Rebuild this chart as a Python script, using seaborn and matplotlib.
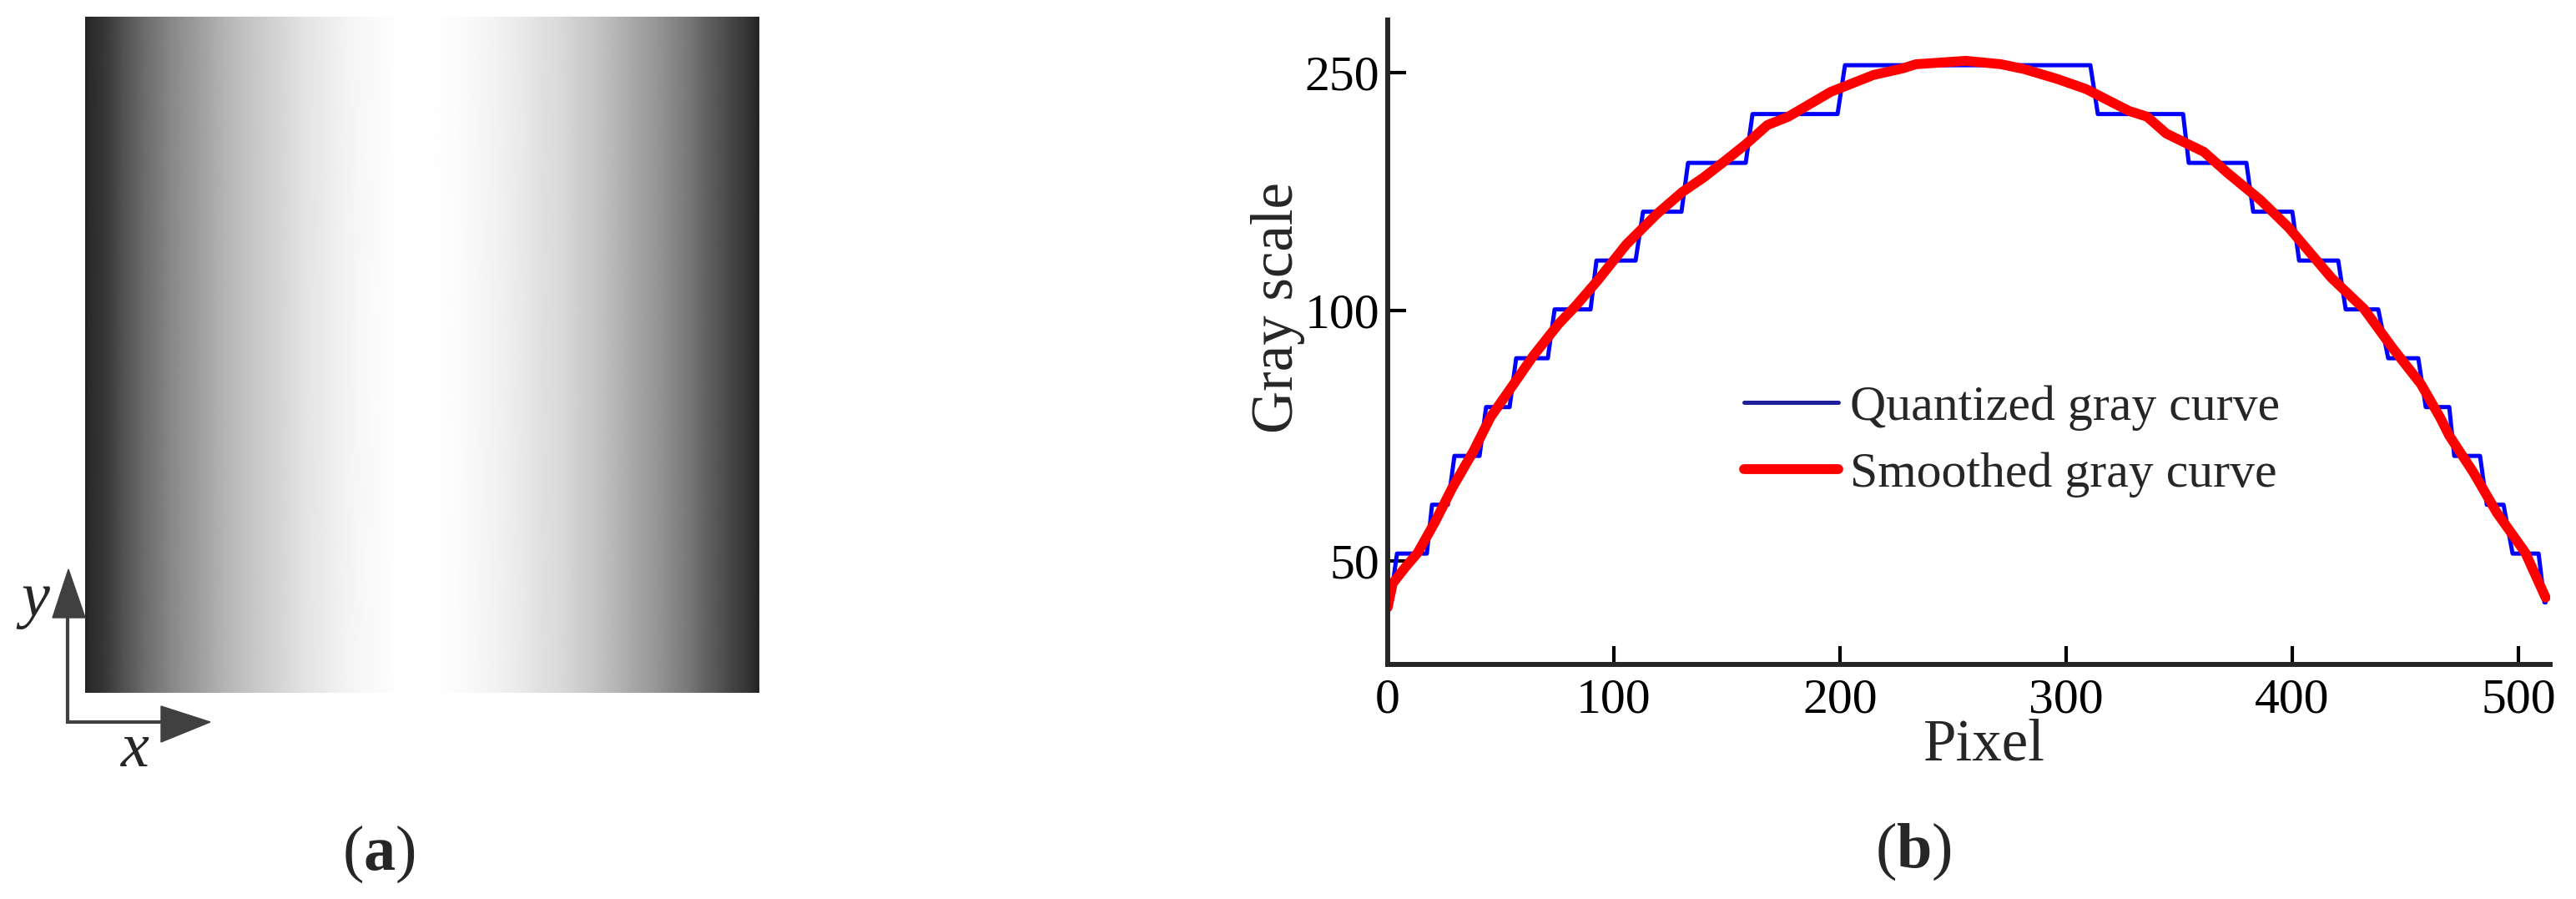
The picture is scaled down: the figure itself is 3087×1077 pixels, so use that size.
import numpy as np
import pandas as pd
import seaborn as sns
import matplotlib.pyplot as plt
from matplotlib.lines import Line2D

# quantized gray curve: flat segments (start pixel, end pixel, gray level)
seg_start = [0, 4.1, 19.6, 29.5, 43.5, 56.8, 73.8, 92.3, 112.9, 132.8, 161.3, 202.2,
             314.0, 354.2, 382.7, 403.0, 423.6, 442.4, 459.0, 471.6, 486.0, 497.4, 511.5]
seg_end = [1.1, 17.3, 26.6, 40.6, 53.9, 70.8, 89.7, 109.6, 129.9, 158.3, 198.9, 310.7,
           351.7, 379.7, 400.0, 420.3, 438.0, 455.7, 469.4, 483.0, 493.4, 508.9, 512]
seg_level = [33, 53, 73, 93, 113, 133, 153, 173, 193, 213, 233, 253,
             233, 213, 193, 173, 153, 133, 113, 93, 73, 53, 33]

# smoothed gray curve
smooth_x = [0, 2.2, 7.7, 13.3, 21.0, 28.4, 38.0, 45.4, 55.0, 64.2, 75.6, 83.0, 92.6,
            105.5, 118.8, 130.3, 139.5, 149.1, 158.3, 167.9, 177.1, 195.9, 205.5, 214.8,
            227.7, 233.6, 255.7, 271.2, 281.5, 296.3, 308.9, 327.7, 335.8, 344.3, 360.9,
            371.2, 386.0, 398.5, 417.3, 431.7, 444.3, 456.8, 465.3, 469.4, 480.1, 490.4,
            503.0, 512]
smooth_y = [31, 40.8, 47.3, 53.4, 66.1, 79.7, 95.1, 108.8, 121.5, 133.8, 147.1, 154.3,
            164.6, 179.6, 191.9, 201.1, 206.9, 213.8, 220.6, 228.5, 231.9, 242.1, 245.6,
            249.0, 251.7, 253.4, 254.8, 253.4, 251.4, 247.3, 243.2, 234.3, 231.9, 225.0,
            217.5, 209.0, 197.7, 186.4, 165.9, 153.2, 137.2, 122.5, 108.8, 101.3, 86.2,
            69.8, 53.4, 35]

x_ticks = [0, 100, 200, 300, 400, 500]
y_ticks = [50, 152.6, 250]
y_ticklabels = ['50', '100', '250']

sns.set_style('ticks')
plt.rcParams['font.family'] = ['Liberation Serif', 'DejaVu Serif']
plt.rcParams['mathtext.fontset'] = 'custom'
plt.rcParams['mathtext.rm'] = 'Liberation Serif'
plt.rcParams['mathtext.bf'] = 'Liberation Serif:bold'
plt.rcParams['mathtext.it'] = 'Liberation Serif:italic'

W, H = 3087, 1077
fig = plt.figure(figsize=(W / 100, H / 100), dpi=100)

def px_axes(x0, y0, x1, y1):
    return fig.add_axes([x0 / W, 1 - y1 / H, (x1 - x0) / W, (y1 - y0) / H])

# ---- (a) gradient image built from the smoothed profile
ax_img = px_axes(102, 20, 910, 830)
X, Y = np.meshgrid(smooth_x, [0, 512])
C = np.tile(smooth_y, (2, 1))
ax_img.pcolormesh(X, Y, C, shading='gouraud', cmap='gray', vmin=0, vmax=255)
ax_img.set_xlim(0, 512)
ax_img.set_ylim(0, 512)
ax_img.axis('off')

# ---- (b) gray curves
ax = px_axes(1663, 24, 3056, 796)
quant = pd.DataFrame({
    'Pixel': [v for s, e in zip(seg_start, seg_end) for v in (s, e)],
    'Gray': [v for l in seg_level for v in (l, l)],
})
smooth = pd.DataFrame({'Pixel': smooth_x, 'Gray': smooth_y})
sns.lineplot(data=quant, x='Pixel', y='Gray', ax=ax, color='#0000ff', lw=3.6,
             estimator=None, sort=False)
sns.lineplot(data=smooth, x='Pixel', y='Gray', ax=ax, color='#ff0000', lw=8.5,
             estimator=None, sort=False)
ax.set_xlim(0, 514)
ax.set_ylim(7.6, 271.5)
ax.set_xticks(x_ticks)
ax.set_yticks(y_ticks)
ax.set_yticklabels(y_ticklabels)
sns.despine(ax=ax)
for s in ['left', 'bottom']:
    ax.spines[s].set_linewidth(4.3)
ax.tick_params(direction='in', length=16, width=3, labelsize=43, colors='black')
ax.tick_params(axis='x', pad=12)
ax.tick_params(axis='y', pad=7)
ax.set_xlabel('Pixel', fontsize=51)
ax.set_ylabel('Gray scale', fontsize=51)
ax.xaxis.set_label_coords(0.513, -0.083)
ax.yaxis.set_label_coords(-0.071, 0.554)

handles = [Line2D([], [], color='#1f1f99', lw=3.6),
           Line2D([], [], color='#ff0000', lw=8.5)]
ax.legend(handles, ['Quantized gray curve', 'Smoothed gray curve'],
          loc='upper left', bbox_to_anchor=(2090 / W, 1 - 461 / H),
          bbox_transform=fig.transFigure, frameon=False, fontsize=43,
          handlelength=1.9, handletextpad=0.22, labelspacing=0.42,
          borderpad=0, borderaxespad=0)

# ---- overlay for arrows and panel labels
ov = fig.add_axes([0, 0, 1, 1])
ov.set_xlim(0, W)
ov.set_ylim(H, 0)
ov.axis('off')
arrow_c = '#404040'
ov.plot([81, 81], [867, 738], color=arrow_c, lw=3, solid_capstyle='butt')
ov.plot([79, 195], [865, 865], color=arrow_c, lw=3, solid_capstyle='butt')
ov.add_patch(plt.Polygon([[63, 740], [102, 740], [82, 682]], color=arrow_c))
ov.add_patch(plt.Polygon([[193, 846], [193, 889], [252, 865]], color=arrow_c))
ov.text(40, 722, '$y$', fontsize=55, ha='center', va='center')
ov.text(162, 900, '$x$', fontsize=55, ha='center', va='center')
ov.text(454, 1023, r'($\mathbf{a}$)', fontsize=55, ha='center', va='center')
ov.text(2293, 1020, r'($\mathbf{b}$)', fontsize=55, ha='center', va='center')

fig.savefig('out.png', dpi=100)
